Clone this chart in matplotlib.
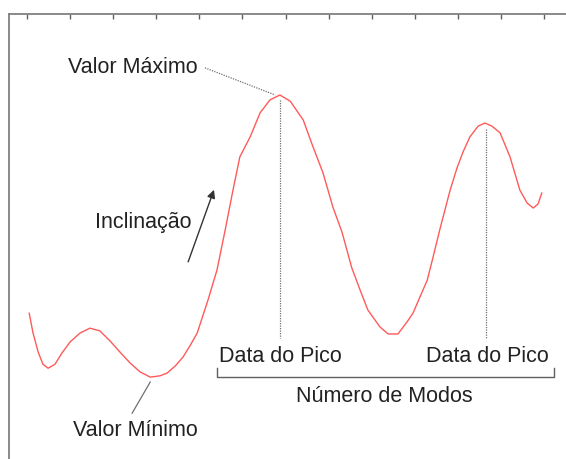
import matplotlib.pyplot as plt

plt.rcParams["font.family"] = ["Liberation Sans", "DejaVu Sans"]

# curve (x in tick units, y in arbitrary units)
curve_x = [0.05, 0.14, 0.26, 0.37, 0.49, 0.65, 0.81, 1.00, 1.23, 1.46, 1.69,
           1.93, 2.16, 2.39, 2.62, 2.86, 3.09, 3.25, 3.44, 3.62, 3.78, 3.95,
           4.20, 4.41, 4.60, 4.78, 4.94, 5.18, 5.41, 5.64, 5.87, 6.11, 6.41,
           6.64, 6.87, 7.10, 7.31, 7.54, 7.73, 7.91, 8.19, 8.38, 8.61, 8.82,
           8.96, 9.12, 9.29, 9.42, 9.59, 9.82, 9.98, 10.12, 10.28, 10.47,
           10.63, 10.79, 10.98, 11.21, 11.44, 11.61, 11.75, 11.86, 11.95]
curve_y = [3.28, 2.83, 2.40, 2.13, 2.04, 2.13, 2.38, 2.63, 2.83, 2.94, 2.88,
           2.65, 2.40, 2.16, 1.96, 1.84, 1.87, 1.93, 2.09, 2.29, 2.54, 2.83,
           3.57, 4.25, 5.15, 6.04, 6.79, 7.24, 7.78, 8.07, 8.18, 8.04, 7.62,
           7.01, 6.43, 5.66, 5.10, 4.29, 3.80, 3.35, 2.97, 2.81, 2.81, 3.08,
           3.28, 3.64, 4.02, 4.52, 5.19, 6.04, 6.54, 6.90, 7.24, 7.48,
           7.55, 7.48, 7.33, 6.79, 6.04, 5.75, 5.64, 5.73, 5.98]

peak_x = [5.87, 10.66]
peak_top = [8.07, 7.42]
peak_base = 2.72
peak_label = "Data do Pico"

max_point = (5.76, 8.18)
min_point = (2.86, 1.73)

bracket_x = [4.41, 12.23]
bracket_y = 1.84
bracket_tick = 2.04

tick_pos = list(range(13))

TXT = "#222222"
GRAY = "#808080"
FS = 15.5

fig = plt.figure(figsize=(5.66, 4.59), dpi=100)
ax = fig.add_axes([9 / 566, 0, 1 - 9 / 566, 1 - 14 / 459])
ax.set_xlim(-0.418, 12.51)
ax.set_ylim(0, 10)

ax.plot(curve_x, curve_y, color="#ff5a5a", lw=1.0, solid_capstyle="round",
        solid_joinstyle="round")

# dotted drops from the peaks
for px, pt in zip(peak_x, peak_top):
    ax.plot([px, px], [pt, peak_base], color="#707070", lw=0.9, ls=(0, (1, 1)))
    ax.text(px + 0.02, 2.18, peak_label, ha="center", va="baseline",
            fontsize=FS, color=TXT)

# Valor Máximo with dotted leader
ax.text(3.95, 8.67, "Valor Máximo", ha="right", va="baseline",
        fontsize=FS, color=TXT)
ax.plot([4.13, max_point[0]], [8.79, max_point[1]], color="#707070",
        lw=0.9, ls=(0, (1, 1)))

# Inclinação arrow
ax.text(2.69, 5.19, "Inclinação", ha="center", va="baseline",
        fontsize=FS, color=TXT)
ax.annotate("", xy=(4.34, 6.05), xytext=(3.74, 4.43),
            arrowprops=dict(arrowstyle="-|>", color="#333333", lw=1.0,
                            mutation_scale=12, shrinkA=0, shrinkB=0))

# Valor Mínimo with leader
ax.text(2.51, 0.52, "Valor Mínimo", ha="center", va="baseline",
        fontsize=FS, color=TXT)
ax.plot([min_point[0], 2.44], [min_point[1], 1.03], color="#707070", lw=0.9)

# bracket for Número de Modos
ax.plot([bracket_x[0], bracket_x[0], bracket_x[1], bracket_x[1]],
        [bracket_tick, bracket_y, bracket_y, bracket_tick],
        color="#606060", lw=1.0)
ax.text(8.29, 1.28, "Número de Modos", ha="center", va="baseline",
        fontsize=FS, color=TXT)

for side in ["right", "bottom"]:
    ax.spines[side].set_visible(False)
for side in ["top", "left"]:
    ax.spines[side].set_color(GRAY)
    ax.spines[side].set_linewidth(1.3)

ax.xaxis.tick_top()
ax.set_xticks(tick_pos)
ax.set_xticklabels([])
ax.tick_params(axis="x", direction="in", length=3.5, width=1.0, color="#606060")
ax.set_yticks([])

fig.savefig("out.png", dpi=100)
